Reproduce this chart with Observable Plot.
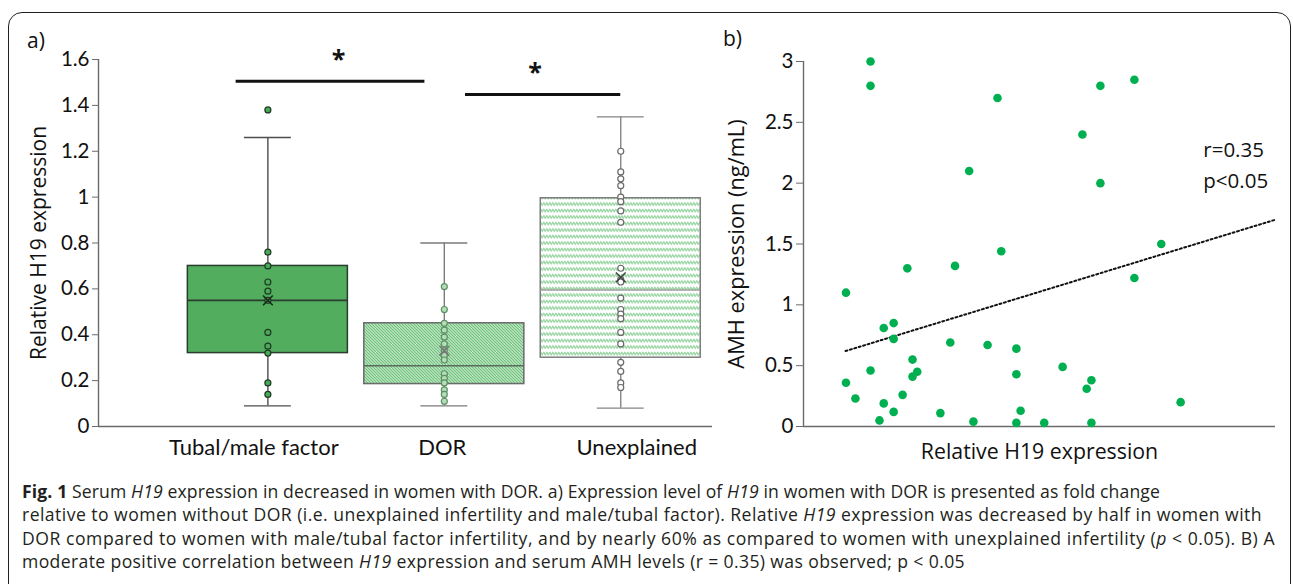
<!DOCTYPE html>
<html><head><meta charset="utf-8">
<script src="https://cdn.jsdelivr.net/npm/d3@7"></script>
<script src="https://cdn.jsdelivr.net/npm/@observablehq/plot@0.6"></script>
<style>
html,body{margin:0;padding:0;background:#fff;}
body{width:1293px;height:584px;overflow:hidden;position:relative;font-family:"Open Sans",sans-serif;color:#231f20;}
#left{position:absolute;left:0;top:0;}
#right{position:absolute;left:700px;top:0;}
#frame{position:absolute;left:8px;top:12px;width:1283px;height:620px;border:1.5px solid #231f20;border-radius:14px;box-sizing:border-box;pointer-events:none;}
.plabel{position:absolute;font-size:21px;line-height:1;color:#111;}
#caption{position:absolute;left:22px;top:480px;font-size:17.6px;line-height:23.4px;white-space:nowrap;color:#231f20;}
#caption span{display:inline-block;}
</style></head><body>
<div id="left"></div>
<div id="right"></div>
<div class="plabel" style="left:27px;top:30px;">a)</div>
<div class="plabel" style="left:723px;top:28px;">b)</div>
<div id="caption">
<span data-w="1138"><b>Fig. 1</b> Serum <i>H19</i> expression in decreased in women with DOR. a) Expression level of <i>H19</i> in women with DOR is presented as fold change</span><br>
<span data-w="1240">relative to women without DOR (i.e. unexplained infertility and male/tubal factor). Relative <i>H19</i> expression was decreased by half in women with</span><br>
<span data-w="1253">DOR compared to women with male/tubal factor infertility, and by nearly 60% as compared to women with unexplained infertility (<i>p</i> &lt; 0.05). B) A</span><br>
<span>moderate positive correlation between <i>H19</i> expression and serum AMH levels (r = 0.35) was observed; p &lt; 0.05</span>
</div>
<div id="frame"></div>
<script>
// ---------- Panel a data ----------
const groups = ["Tubal/male factor", "DOR", "Unexplained"];
const q1 = [0.32, 0.185, 0.30];
const median = [0.55, 0.265, 0.595];
const q3 = [0.70, 0.45, 0.995];
const whiskLo = [0.09, 0.09, 0.08];
const whiskHi = [1.26, 0.80, 1.35];
const means = [0.55, 0.33, 0.65];
const tubalPts = [1.38, 0.76, 0.70, 0.63, 0.59, 0.55, 0.41, 0.35, 0.32, 0.19, 0.14];
const dorPts = [0.61, 0.51, 0.45, 0.42, 0.39, 0.36, 0.33, 0.31, 0.29, 0.23, 0.21, 0.19, 0.16, 0.14, 0.11];
const unexPts = [1.20, 1.11, 1.08, 1.05, 1.00, 0.98, 0.94, 0.89, 0.69, 0.64, 0.63, 0.56, 0.51, 0.49, 0.47, 0.41, 0.36, 0.28, 0.24, 0.19, 0.17];
const groupPts = [tubalPts, dorPts, unexPts];
const yTicksA = [0, 0.2, 0.4, 0.6, 0.8, 1.0, 1.2, 1.4, 1.6];
const sigY = [1.505, 1.447];
const sigX1 = [-0.18, 1.12];
const sigX2 = [0.89, 2.0];
const asterX = [0.40, 1.515];
const asterY = [1.60, 1.54];

// ---------- Panel b data ----------
const h19 = [0.142,0.142,0.411,0.701,0.629,0.591,0.351,0.629,0.758,0.419,0.321,0.220,0.701,0.090,0.191,0.170,0.191,0.311,0.390,0.451,0.231,0.142,0.241,0.231,0.451,0.549,0.610,0.600,0.090,0.110,0.210,0.170,0.799,0.191,0.290,0.460,0.161,0.360,0.451,0.510,0.610];
const amh = [3.00,2.80,2.70,2.85,2.80,2.40,2.10,2.00,1.50,1.44,1.32,1.30,1.22,1.10,0.85,0.81,0.72,0.69,0.67,0.64,0.55,0.46,0.45,0.41,0.43,0.49,0.38,0.31,0.36,0.23,0.26,0.19,0.20,0.12,0.11,0.13,0.05,0.04,0.03,0.03,0.03];
const trendX = [0.089, 1.0];
const trendY = [0.62, 1.70];
const yTicksB = [0, 0.5, 1, 1.5, 2, 2.5, 3];
const statText = "r=0.35\np<0.05";
const statPos = {x: 0.847, y: 2.168};

// ---------- styles ----------
const xDomainA = [-0.96, 2.52];
const boxHalf = 0.4535, capHalf = 0.133;
const labelDx = [-14, -2, 16];
const boxFill = ["#52ad5e", "url(#diagHatch)", "url(#waveHatch)"];
const boxStroke = ["#2b3d2e", "#6a6a6a", "#7d7d7d"];
const medianStroke = ["#2b3d2e", "#5b6b5d", "#a0a0a0"];
const whiskerStroke = ["#4d4d4d", "#7a7a7a", "#858585"];
const ptFill = ["#4aa956", "#b2dfb6", "#ffffff"];
const ptStroke = ["#1f3a24", "#5f8f66", "#6a6a6a"];
const meanStroke = ["#1a2a1c", "#777777", "#444444"];
const axisColor = "#6b6b6b";
const fmt = d => String(+d.toFixed(1));

const marksA = [];
groups.forEach((g, i) => {
  marksA.push(Plot.ruleX([i], {y1: () => whiskLo[i], y2: () => q1[i], stroke: whiskerStroke[i], strokeWidth: 1.4}));
  marksA.push(Plot.ruleX([i], {y1: () => q3[i], y2: () => whiskHi[i], stroke: whiskerStroke[i], strokeWidth: 1.4}));
  marksA.push(Plot.ruleY([whiskLo[i], whiskHi[i]], {x1: () => i - capHalf, x2: () => i + capHalf, stroke: whiskerStroke[i], strokeWidth: 1.4}));
  marksA.push(Plot.rect([i], {x1: () => i - boxHalf, x2: () => i + boxHalf, y1: () => q1[i], y2: () => q3[i], fill: boxFill[i], stroke: boxStroke[i], strokeWidth: 1.5}));
  marksA.push(Plot.ruleY([median[i]], {x1: () => i - boxHalf, x2: () => i + boxHalf, stroke: medianStroke[i], strokeWidth: 1.6}));
  marksA.push(Plot.dot(groupPts[i], {x: () => i, y: d => d, r: 3, fill: ptFill[i], stroke: ptStroke[i], strokeWidth: 1.2}));
  marksA.push(Plot.dot([means[i]], {x: () => i, y: d => d, symbol: "times", r: 4.5, stroke: meanStroke[i], strokeWidth: 1.6}));
  marksA.push(Plot.text([g], {x: () => i, frameAnchor: "bottom", lineAnchor: "middle", textAnchor: "middle", dy: 21, dx: labelDx[i], text: d => d, fontSize: 22, fill: "#111"}));
});

const plotA = Plot.plot({
  width: 720, height: 470,
  marginLeft: 98, marginRight: 8, marginTop: 59, marginBottom: 44,
  x: {domain: xDomainA, range: [98, 712], axis: null},
  y: {domain: [0, 1.6], range: [426, 59], axis: null},
  style: {background: "transparent", fontFamily: "Lato, sans-serif", overflow: "visible", color: "#111"},
  marks: [
    Plot.ruleY([0], {x1: () => xDomainA[0], x2: () => xDomainA[1], stroke: axisColor, strokeWidth: 1.4}),
    Plot.ruleX([xDomainA[0]], {y1: () => 0, y2: () => 1.6, stroke: axisColor, strokeWidth: 1.4}),
    Plot.axisY({ticks: yTicksA, tickFormat: fmt, tickSize: 6, tickPadding: 3, fontSize: 20.5, stroke: axisColor, fill: "#111", label: null}),
    ...marksA,
    Plot.ruleY(sigY, {x1: (d, k) => sigX1[k], x2: (d, k) => sigX2[k], stroke: "#111", strokeWidth: 3}),
    Plot.text(asterX, {x: d => d, y: (d, k) => asterY[k], text: () => "*", fontSize: 25, fontWeight: "bold", fill: "#111", fontFamily: "Open Sans, sans-serif"}),
    Plot.text(["Relative H19 expression"], {frameAnchor: "left", textAnchor: "middle", lineAnchor: "middle", dx: -59, rotate: -90, text: d => d, fontSize: 21, fill: "#111", fontFamily: "Open Sans, sans-serif"})
  ]
});
d3.select(plotA).insert("defs", ":first-child").html(`
  <pattern id="diagHatch" patternUnits="userSpaceOnUse" width="3" height="3">
    <rect width="3" height="3" fill="#cdebd0"/>
    <path d="M-1,-1 L4,4 M-1,2 L1,4 M2,-1 L4,1" stroke="#69c077" stroke-width="1.1"/>
  </pattern>
  <pattern id="waveHatch" patternUnits="userSpaceOnUse" width="3" height="6.5">
    <rect width="3" height="6.5" fill="#ffffff"/>
    <path d="M0,2.6 L0.75,1.9 L1.5,2.6 L2.25,3.3 L3,2.6" fill="none" stroke="#9ad6a3" stroke-width="2"/>
  </pattern>`);
document.getElementById("left").appendChild(plotA);

const plotB = Plot.plot({
  width: 593, height: 470,
  marginLeft: 103, marginRight: 18, marginTop: 61, marginBottom: 44,
  x: {domain: [0, 1], axis: null},
  y: {domain: [0, 3], axis: null},
  style: {background: "transparent", fontFamily: "Lato, sans-serif", overflow: "visible", color: "#111"},
  marks: [
    Plot.ruleY([0], {x1: () => 0, x2: () => 1, stroke: axisColor, strokeWidth: 1.4}),
    Plot.ruleX([0], {y1: () => 0, y2: () => 3, stroke: axisColor, strokeWidth: 1.4}),
    Plot.axisY({ticks: yTicksB, tickFormat: d => String(d), tickSize: 7, tickPadding: 3, fontSize: 20.5, stroke: axisColor, fill: "#111", label: null}),
    Plot.line(trendX, {x: d => d, y: (d, k) => trendY[k], stroke: "#111", strokeWidth: 2, strokeDasharray: "2,2.6"}),
    Plot.dot(h19, {x: d => d, y: (d, k) => amh[k], r: 4.3, fill: "#00b050", stroke: "none"}),
    Plot.text([statText], {x: () => statPos.x, y: () => statPos.y, text: d => d, textAnchor: "start", lineHeight: 1.5, fontSize: 20.5, fill: "#111", fontFamily: "Open Sans, sans-serif"}),
    Plot.text(["AMH expression (ng/mL)"], {frameAnchor: "left", textAnchor: "middle", lineAnchor: "middle", dx: -66, rotate: -90, text: d => d, fontSize: 21.8, fill: "#111", fontFamily: "Open Sans, sans-serif"}),
    Plot.text(["Relative H19 expression"], {frameAnchor: "bottom", lineAnchor: "middle", textAnchor: "middle", dy: 26, text: d => d, fontSize: 21.3, fill: "#111", fontFamily: "Open Sans, sans-serif"})
  ]
});
document.getElementById("right").appendChild(plotB);

// fit caption lines to the reference line lengths; the last line uses the mean spacing
const spans = [...document.querySelectorAll("#caption span")];
const spacings = [];
spans.filter(s => s.dataset.w).forEach(s => {
  const target = +s.dataset.w;
  const w = s.getBoundingClientRect().width;
  const ls = (target - w) / s.textContent.length;
  spacings.push(ls);
  s.style.letterSpacing = ls.toFixed(3) + "px";
});
const meanLs = spacings.reduce((a, b) => a + b, 0) / spacings.length;
spans.filter(s => !s.dataset.w).forEach(s => { s.style.letterSpacing = meanLs.toFixed(3) + "px"; });
</script>
</body></html>
